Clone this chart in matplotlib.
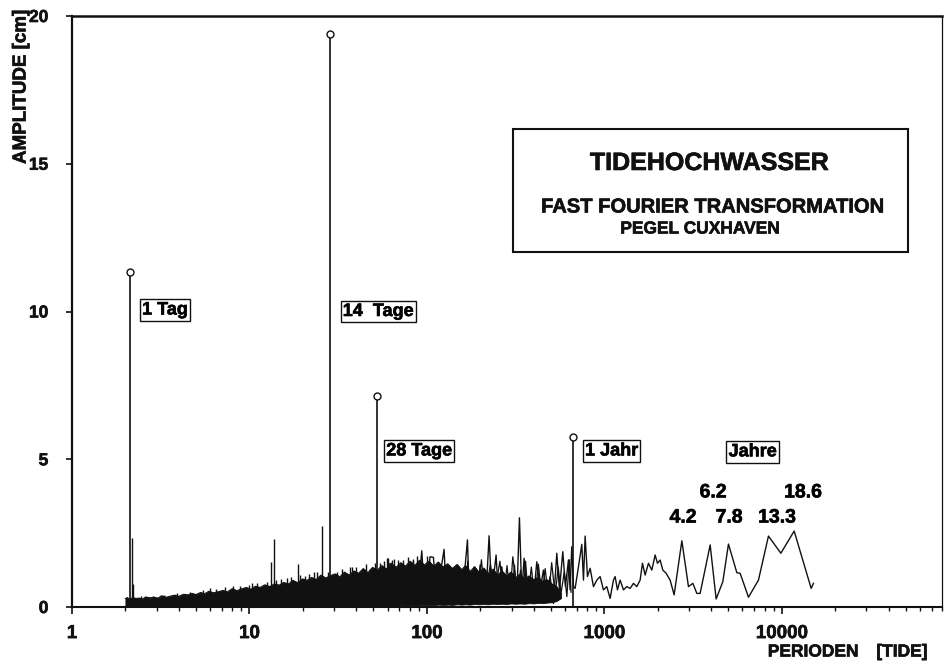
import matplotlib
matplotlib.use("Agg")
import matplotlib.pyplot as plt
import matplotlib.patheffects as pe
from matplotlib.patches import Rectangle
from matplotlib.ticker import FixedLocator, LogLocator, NullFormatter

plt.rcParams['font.family'] = ['Liberation Sans', 'DejaVu Sans']
plt.rcParams['font.weight'] = 'bold'

# Dense short-period band of the spectrum (period in tides, amplitude in cm)
band_period = [2.0, 2.05, 2.1, 2.2, 2.3, 2.4, 2.5, 2.6, 2.75, 2.9, 3.05, 3.2, 3.4,
               3.6, 3.8, 4.0, 4.25, 4.5, 4.75, 5.0, 5.3, 5.6, 5.9, 6.3, 6.7, 7.1,
               7.5, 8.0, 8.5, 9.0, 9.6, 10.2, 10.8, 11.5, 12.2, 13.0, 13.8, 14.7,
               15.6, 16.6, 17.6, 18.7, 19.9, 21.1, 22.4, 23.8, 25.3, 26.9, 28.6,
               30.4, 32.3, 34.3, 36.5, 38.8, 41.2, 43.8, 46.5, 49.4, 52.5, 55.8,
               59.3, 63.0, 67.0, 71.2, 75.7, 80.4, 85.5, 90.9, 96.6, 103, 109,
               116, 123, 131, 139, 148, 157, 165, 175, 186, 197, 209, 222, 236,
               250, 265, 281, 298, 316, 335, 355, 377, 400, 424, 450, 477, 506,
               537, 570]
band_top = [0.28, 0.32, 0.26, 0.31, 0.29, 0.30, 0.27, 0.34, 0.31, 0.33, 0.30, 0.38, 0.33,
            0.37, 0.40, 0.36, 0.43, 0.41, 0.46, 0.42, 0.49, 0.45, 0.53, 0.48, 0.52, 0.56,
            0.51, 0.62, 0.55, 0.61, 0.66, 0.60, 0.70, 0.66, 0.75, 0.69, 0.78, 0.74,
            0.83, 0.78, 0.90, 0.82, 0.95, 0.90, 1.00, 0.93, 1.08, 0.98, 1.06,
            1.12, 1.02, 1.18, 1.08, 1.22, 1.14, 1.30, 1.16, 1.34, 1.24, 1.40,
            1.28, 1.48, 1.34, 1.50, 1.38, 1.55, 1.40, 1.58, 1.42, 1.55, 1.38,
            1.52, 1.35, 1.46, 1.30, 1.44, 1.26, 1.40, 1.20, 1.36, 1.16, 1.32, 1.12, 1.28,
            1.08, 1.22, 1.05, 1.18, 0.98, 1.12, 0.95, 1.05, 0.92, 1.00, 0.86, 0.92, 0.78,
            0.70, 0.45]
band_bottom = [0.0, 0.0, 0.0, 0.0, 0.0, 0.0, 0.0, 0.0, 0.0, 0.0, 0.0, 0.0, 0.0,
               0.0, 0.0, 0.0, 0.0, 0.0, 0.0, 0.0, 0.0, 0.0, 0.0, 0.0, 0.0, 0.0,
               0.0, 0.0, 0.0, 0.0, 0.0, 0.0, 0.0, 0.0, 0.0, 0.0, 0.0, 0.0,
               0.0, 0.0, 0.0, 0.0, 0.0, 0.01, 0.0, 0.01, 0.0, 0.02, 0.01,
               0.02, 0.01, 0.03, 0.02, 0.03, 0.02, 0.04, 0.03, 0.04, 0.03, 0.05,
               0.04, 0.05, 0.04, 0.06, 0.05, 0.06, 0.05, 0.07, 0.06, 0.07, 0.06,
               0.08, 0.07, 0.08, 0.07, 0.09, 0.08, 0.09, 0.08, 0.10, 0.09, 0.10, 0.09, 0.11,
               0.10, 0.11, 0.10, 0.12, 0.11, 0.12, 0.11, 0.13, 0.12, 0.14, 0.13, 0.15, 0.16,
               0.20, 0.30]

# Resolved part of the spectrum (period in tides, amplitude in cm)
line_period = [56.9, 59.4, 62.0, 64.8, 67.6, 70.6, 75.4, 79.7, 84.0, 87.7, 93.6,
               97.7, 104.2, 108.9, 113.6, 118.7, 125.0, 129.4, 138.1, 144.2, 153.9,
               160.6, 169.3, 173.7, 182.9, 191.0, 199.5, 208.3, 217.5, 224.2, 232.1,
               245.5, 253.1, 264.2, 276.0, 288.1, 300.9, 311.5, 321.1, 332.4, 342.6,
               353.1, 365.6, 381.8, 398.7, 416.3, 434.7, 453.9, 474.0, 495.0, 516.9,
               539.8, 558.7, 583.4, 603.9, 627.8, 641.5, 655.5, 669.9, 684.6, 714.9,
               746.5, 762.9, 779.6, 803.5, 831.8, 868.5, 907.0, 947.0, 988.8, 1032.5,
               1078.2, 1125.8, 1150.5, 1185.8, 1227.6, 1282.0, 1338.6, 1397.8,
               1459.7, 1524.1, 1591.6, 1640.4, 1698.3, 1773.5, 1851.9, 1934.0,
               1993.3, 2063.4, 2136.0, 2230.5, 2349.1, 2474.4, 2735, 2980, 3155,
               3322, 3467, 3949, 4268, 4656, 5007, 5584, 5828, 6493, 7391, 8414,
               9883, 11747, 14645, 15089]
line_amp = [1.14, 0.12, 1.48, 0.18, 1.25, 0.07, 1.36, 0.12, 1.59, 0.07, 1.90,
            0.12, 1.70, 1.68, 0.12, 1.08, 1.95, 0.07, 1.25, 0.12, 1.03,
            0.69, 2.27, 0.24, 1.03, 0.12, 1.42, 0.35, 0.91, 2.41, 0.46,
            1.76, 0.35, 1.36, 0.46, 0.91, 0.24, 1.42, 0.29, 3.02, 0.46,
            1.65, 0.41, 0.91, 0.29, 1.53, 0.58, 1.25, 0.35, 1.03, 0.12,
            1.82, 0.58, 1.87, 0.69, 1.59, 0.58, 2.04, 0.69, 0.63, 1.36,
            2.12, 0.91, 2.40, 1.03, 1.31, 0.69, 0.91, 1.03, 0.58, 0.69,
            0.29, 0.91, 1.03, 0.58, 0.91, 0.58, 0.69, 0.63,
            0.80, 0.69, 0.91, 1.48, 1.08, 1.48, 1.25, 1.76,
            1.48, 1.59, 1.25, 1.14, 0.91, 0.41, 2.24, 0.69, 0.80,
            0.46, 0.46, 2.10, 0.27, 0.86, 2.13, 1.16, 1.14, 0.33, 0.91, 2.40,
            1.82, 2.57, 0.63, 0.80]

# Extra jagged detail inside the dense part of the spectrum
fine_period = [165, 170, 178, 184, 193, 203, 212, 228, 240, 258, 270, 283, 294,
               305, 326, 337, 348, 360, 372, 388, 405, 425, 444, 464, 485, 505,
               528, 550, 570, 595, 615, 635, 650]
fine_amp = [0.30, 1.55, 0.25, 1.35, 0.35, 1.60, 0.30, 1.45, 0.40, 1.55, 0.30,
            1.40, 0.35, 1.70, 0.30, 1.25, 0.40, 1.55, 0.35, 1.35, 0.25, 1.45,
            0.35, 1.30, 0.30, 1.50, 0.40, 1.35, 0.45, 1.20, 0.35, 1.60, 0.50]

# Isolated narrow spectral lines
spike_period = [2.165, 2.22, 2.45, 2.85, 3.3, 3.9, 4.6, 5.45, 6.0, 6.5, 7.3, 8.08,
                8.8, 9.9, 10.3, 11.1, 12.6, 13.2, 13.8, 14.2, 15.1, 16.3, 17.1,
                18.7, 19.3, 20.6, 21.7, 23.1, 24.0, 25.6, 27.7, 31.2, 33.3, 36.9,
                37.9, 40.0, 43.7, 45.1, 47.8, 51.0, 54.5, 57.5, 59.4, 60.4, 63.4,
                65.0, 68.8, 73.4, 78.0, 88.0, 100]
spike_amp = [2.34, 0.78, 0.36, 0.38, 0.42, 0.47, 0.52, 0.56, 0.64, 0.62, 0.66, 0.71,
             0.72, 0.76, 0.80, 0.82, 0.86, 1.53, 2.29, 0.92, 0.95, 0.97, 1.02,
             1.44, 1.08, 1.05, 1.12, 1.18, 1.20, 2.74, 1.20, 1.20, 1.30, 1.36,
             1.36, 1.36, 1.30, 1.44, 1.30, 1.50, 1.48, 1.56, 1.66, 1.65, 1.60,
             1.62, 1.60, 1.60, 1.70, 1.74, 1.72]

# Labelled tidal constituents
peak_period = [2.11, 28.5, 52.1, 667]
peak_amp = [11.35, 19.39, 7.14, 5.76]
peak_names = ["1 Tag", "14  Tage", "28 Tage", "1 Jahr"]
name_period = [3.34, 53.1, 90.4, 1099]
name_amp = [10.05, 10.0, 5.28, 5.28]

# Long-period peaks, in years
years_title = "Jahre"
years_title_period = 6855
years_title_amp = 5.25
year_labels = ["4.2", "6.2", "7.8", "13.3", "18.6"]
year_label_period = [2780, 4105, 5055, 9420, 13200]
year_label_amp = [3.01, 3.86, 3.01, 3.01, 3.86]

x_ticks = [1, 10, 100, 1000, 10000]
x_tick_labels = ["1", "10", "100", "1000", "10000"]
y_ticks = [0, 5, 10, 15, 20]
y_tick_labels = ["0", "5", "10", "15", "20"]

W, H = 946, 667
fig = plt.figure(figsize=(W / 100, H / 100), dpi=100)
ax = fig.add_axes([72 / W, 1 - 607 / H, 870 / W, 591 / H])

ink = "#111111"
heavy = [pe.withStroke(linewidth=0.45, foreground=ink)]

ax.fill_between(band_period, band_bottom, band_top, color=ink, lw=0.6, zorder=2)
ax.plot(band_period, band_top, color=ink, lw=0.8, zorder=2)
ax.plot(fine_period, fine_amp, color=ink, lw=0.9, zorder=2)
ax.plot(line_period, line_amp, color=ink, lw=1.0, zorder=3)
ax.vlines(spike_period, 0, spike_amp, color=ink, lw=1.0, zorder=3)

ax.vlines(peak_period, 0, peak_amp, color=ink, lw=1.2, zorder=4)
ax.plot(peak_period, peak_amp, 'o', ms=5, mfc='white', mec=ink, mew=1.0, zorder=5)

box = dict(boxstyle="square,pad=0.12", fc="white", ec=ink, lw=1.0)
for name, px, py in zip(peak_names, name_period, name_amp):
    ax.text(px, py, name, ha='center', va='center', fontsize=13,
            fontweight='bold', bbox=box, zorder=6, path_effects=heavy)
ax.text(years_title_period, years_title_amp, years_title, ha='center',
        va='center', fontsize=13, fontweight='bold', bbox=box, zorder=6,
        path_effects=heavy)
for lab, px, py in zip(year_labels, year_label_period, year_label_amp):
    ax.text(px, py, lab, ha='center', va='center', fontsize=14,
            fontweight='bold', zorder=6, path_effects=heavy)

ax.set_xscale('log')
ax.set_xlim(1, 80000)
ax.set_ylim(0, 20)

ax.xaxis.set_major_locator(FixedLocator(x_ticks))
ax.set_xticklabels(x_tick_labels)
ax.xaxis.set_minor_locator(LogLocator(base=10, subs=(2, 3, 4, 5, 6, 7, 8, 9), numticks=20))
ax.xaxis.set_minor_formatter(NullFormatter())
ax.set_yticks(y_ticks)
ax.set_yticklabels(y_tick_labels)

ax.tick_params(axis='x', which='major', direction='out', length=5, width=1.2,
               pad=8, labelsize=13.5, colors=ink)
ax.tick_params(axis='x', which='minor', direction='out', length=3, width=1.0,
               colors=ink)
ax.tick_params(axis='y', which='major', direction='out', length=4, width=1.2,
               pad=13, labelsize=12.5, colors=ink)
for lab in ax.get_xticklabels() + ax.get_yticklabels():
    lab.set_fontweight('bold')
    lab.set_path_effects(heavy)

ax.spines['left'].set_linewidth(1.6)
ax.spines['bottom'].set_linewidth(1.5)
ax.spines['top'].set_linewidth(1.8)
ax.spines['right'].set_linewidth(0.9)
for s in ax.spines.values():
    s.set_color(ink)

# Title panel
fig.patches.append(Rectangle((513 / W, 1 - 252 / H), 395 / W, 123 / H,
                             transform=fig.transFigure, fill=False,
                             ec=ink, lw=1.5))
fig.text(709 / W, 1 - 163 / H, "TIDEHOCHWASSER", ha='center', va='center',
         fontsize=18, fontweight='bold', color=ink, path_effects=heavy)
fig.text(713 / W, 1 - 207 / H, "FAST FOURIER TRANSFORMATION", ha='center',
         va='center', fontsize=14.5, fontweight='bold', color=ink,
         path_effects=heavy)
fig.text(700 / W, 1 - 229 / H, "PEGEL CUXHAVEN", ha='center', va='center',
         fontsize=12.5, fontweight='bold', color=ink, path_effects=heavy)

# Axis titles
fig.text(21 / W, 1 - 87 / H, "AMPLITUDE [cm]", rotation=90, ha='center',
         va='center', fontsize=13.5, fontweight='bold', color=ink,
         path_effects=heavy)
fig.text(813 / W, 1 - 652 / H, "PERIODEN", ha='center', va='center',
         fontsize=12.5, fontweight='bold', color=ink, path_effects=heavy)
fig.text(902 / W, 1 - 652 / H, "[TIDE]", ha='center', va='center',
         fontsize=12.5, fontweight='bold', color=ink, path_effects=heavy)

fig.savefig("out.png", dpi=100, facecolor='white')
